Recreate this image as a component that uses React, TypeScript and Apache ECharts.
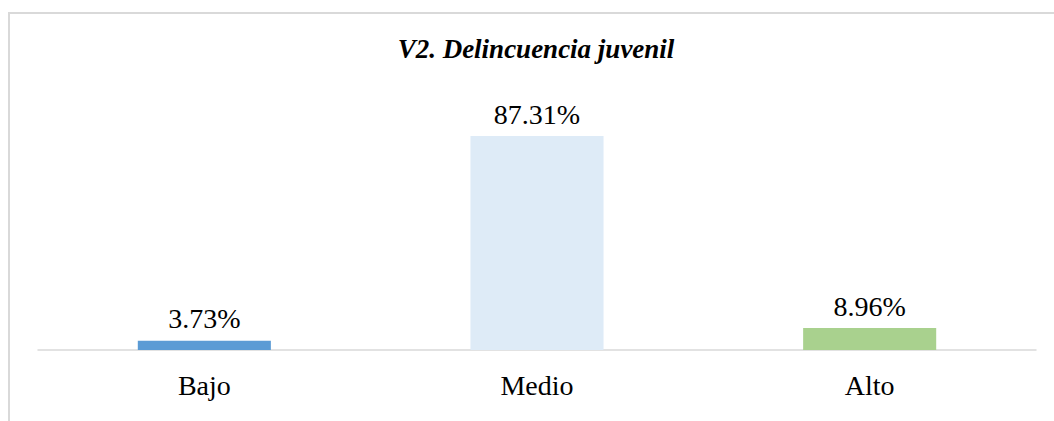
import React, { useEffect, useRef } from "react";
import * as echarts from "echarts";

const titleText = "V2. Delincuencia juvenil";
const categories = ["Bajo", "Medio", "Alto"];
const values = [3.73, 87.31, 8.96];
const barColors = ["#5b9bd5", "#deebf7", "#a9d18e"];

export default function App() {
  const ref = useRef<HTMLDivElement>(null);
  useEffect(() => {
    if (!ref.current) return;
    const chart = echarts.init(ref.current, null, { renderer: "svg" });
    const font = "Liberation Serif";
    chart.setOption({
      animation: false,
      backgroundColor: "#ffffff",
      graphic: [
        {
          type: "rect",
          shape: { x: 9, y: 13, width: 1100, height: 500 },
          style: { fill: "none", stroke: "#d9d9d9", lineWidth: 2 },
          silent: true,
          z: -1,
        },
        {
          type: "text",
          x: 536,
          y: 35,
          style: {
            text: titleText,
            fontFamily: font,
            fontSize: 27,
            fontWeight: "bold",
            fontStyle: "italic",
            fill: "#000000",
            textAlign: "center",
            textVerticalAlign: "top",
          },
          silent: true,
        },
      ],
      grid: { left: 38, right: 18, top: 105, bottom: 71, containLabel: false },
      xAxis: {
        type: "category",
        data: categories,
        axisLine: { show: true, lineStyle: { color: "#d9d9d9", width: 1.5 } },
        axisTick: { show: false },
        axisLabel: {
          margin: 21,
          fontFamily: font,
          fontSize: 28,
          color: "#000000",
        },
      },
      yAxis: {
        type: "value",
        min: 0,
        max: 100,
        show: false,
        splitLine: { show: false },
      },
      series: [
        {
          type: "bar",
          barWidth: "40%",
          data: values.map((v, i) => ({ value: v, itemStyle: { color: barColors[i] } })),
          label: {
            show: true,
            position: "top",
            distance: 8,
            fontFamily: font,
            fontSize: 28,
            color: "#000000",
            formatter: (p: any) => p.value.toFixed(2) + "%",
          },
        },
      ],
    });
    return () => chart.dispose();
  }, []);
  return (
    <div
      ref={ref}
      style={{ position: "fixed", left: 0, top: 0, width: 1054, height: 421 }}
    />
  );
}
